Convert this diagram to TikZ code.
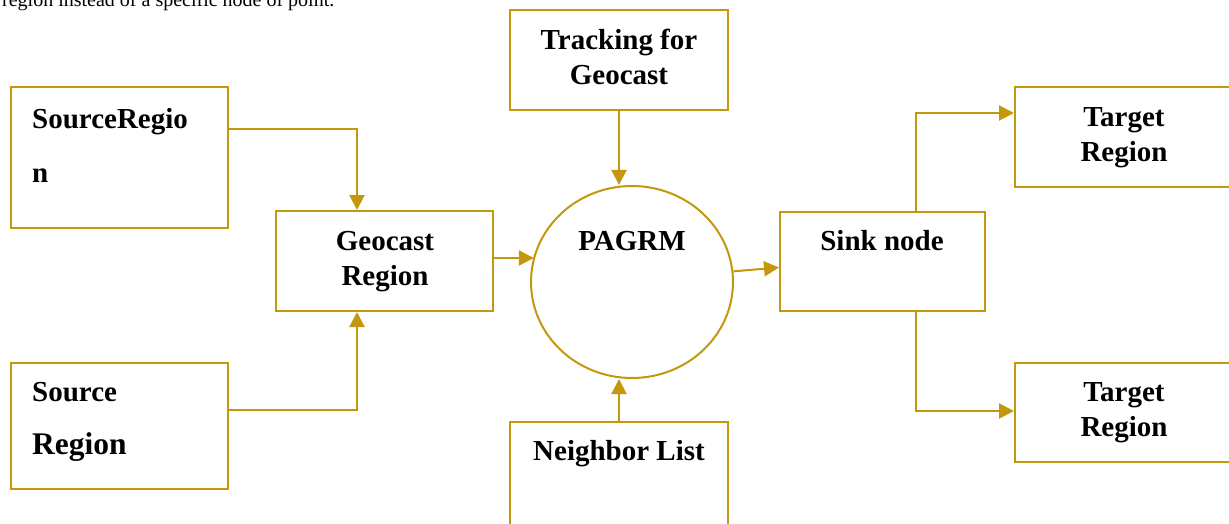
\documentclass[tikz,border=0pt]{standalone}
\usepackage{fontspec}
\setmainfont{Liberation Serif}
\usetikzlibrary{arrows.meta,shapes.geometric}
\definecolor{gold}{RGB}{196,152,12}
\tikzset{
  box/.style={draw=gold, line width=2pt, fill=white, rectangle, inner sep=0pt},
  ring/.style={draw=gold, line width=2pt, ellipse, inner sep=0pt, minimum width=202pt, minimum height=192pt},
  lbl/.style={inner sep=0pt, font=\fontsize{29}{35}\selectfont\bfseries},
  lblwide/.style={inner sep=0pt, font=\fontsize{29}{53.5}\selectfont\bfseries},
  arr/.style={draw=gold, line width=2pt, -{Triangle[length=15pt,width=15pt]}},
}
\begin{document}
\begin{tikzpicture}[x=1pt,y=-1pt]
\useasboundingbox (0,0) rectangle (1229,524);
\clip (0,0) rectangle (1229,524);
\fill[white] (0,0) rectangle (1229,524);

% cropped caption at the top
\node[anchor=base west, inner sep=0pt, font=\fontsize{20}{24}\selectfont] (cap) at (2,6.5) {region instead of a specific node of point.};

% boxes
\node[box, minimum width=217pt, minimum height=141pt] (srcA) at (119.5,157.5) {};
\node[box, minimum width=217pt, minimum height=126pt] (srcB) at (119.5,426) {};
\node[box, minimum width=217pt, minimum height=100pt] (geo) at (384.5,261) {};
\node[box, minimum width=218pt, minimum height=100pt] (track) at (619,60) {};
\node[ring] (pag) at (632,282) {};
\node[box, minimum width=218pt, minimum height=140pt] (nb) at (619,492) {};
\node[box, minimum width=205pt, minimum height=99pt] (sink) at (882.5,261.5) {};
\node[box, minimum width=250pt, minimum height=100pt] (tgA) at (1140,137) {};
\node[box, minimum width=250pt, minimum height=99pt] (tgB) at (1140,412.5) {};

% labels
\node[lblwide, anchor=base west] (tSrcA) at (32,129) {\begin{tabular}[t]{@{}l@{}}SourceRegio\\n\end{tabular}};
\node[lblwide, anchor=base west] (tSrcB) at (32,401) {\begin{tabular}[t]{@{}l@{}}Source\\{\fontsize{31.5}{40}\selectfont Region}\end{tabular}};
\node[lbl, anchor=base] (tGeo) at (385,250) {\begin{tabular}[t]{@{}c@{}}Geocast\\Region\end{tabular}};
\node[lbl, anchor=base] (tTrack) at (619,50) {\begin{tabular}[t]{@{}c@{}}Tracking for\\Geocast\end{tabular}};
\node[lbl, anchor=base] (tPag) at (632,250) {PAGRM};
\node[lbl, anchor=base] (tNb) at (619,460) {Neighbor List};
\node[lbl, anchor=base] (tSink) at (882,250) {Sink node};
\node[lbl, anchor=base] (tTgA) at (1124,127) {\begin{tabular}[t]{@{}c@{}}Target\\Region\end{tabular}};
\node[lbl, anchor=base] (tTgB) at (1124,401) {\begin{tabular}[t]{@{}c@{}}Target\\Region\end{tabular}};

% connectors
\draw[arr] ([yshift=28.5pt]srcA.east) -| ([xshift=-27.5pt]geo.north);
\draw[arr] ([yshift=16pt]srcB.east) -| ([xshift=-27.5pt]geo.south);
\draw[arr] ([yshift=3pt]geo.east) -- ([yshift=3pt]geo.east -| pag.165);
\draw[arr] (track.south) -- (track.south |- pag.north);
\draw[arr] (nb.north) -- (nb.north |- pag.south);
\draw[arr] (pag.6) -- ([yshift=-6pt]sink.west);
\draw[arr] ([xshift=33.5pt]sink.north) |- ([yshift=24pt]tgA.west);
\draw[arr] ([xshift=33.5pt]sink.south) |- ([yshift=1.5pt]tgB.west);
\end{tikzpicture}
\end{document}
